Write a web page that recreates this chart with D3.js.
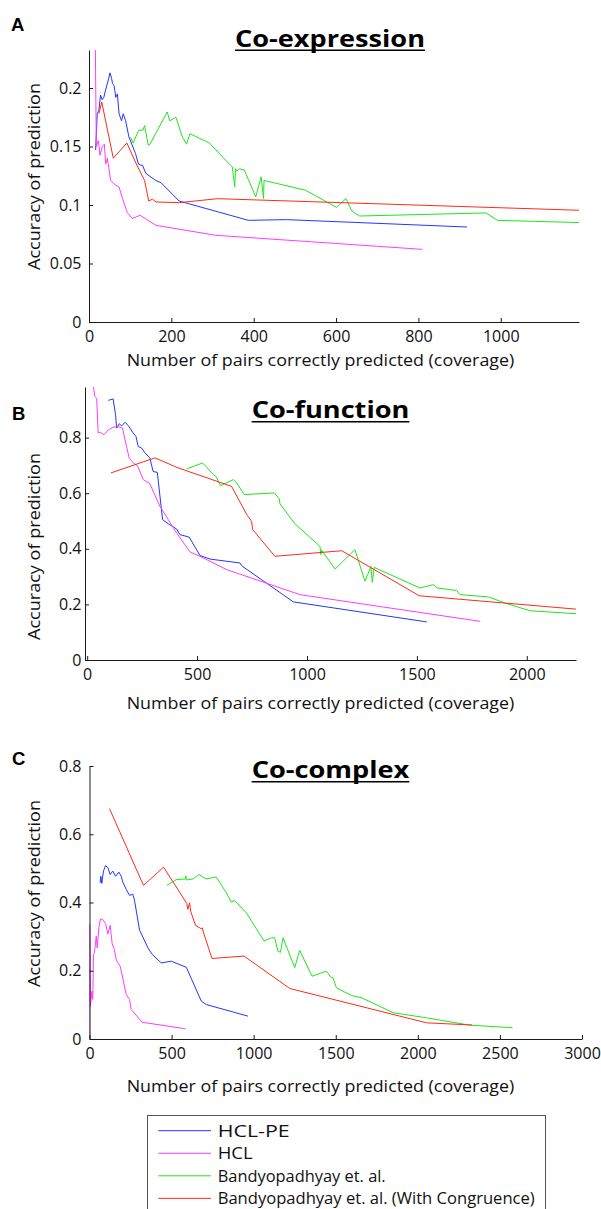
<!DOCTYPE html>
<html>
<head>
<meta charset="utf-8">
<script src="https://cdn.jsdelivr.net/npm/d3@7"></script>
<style>
  html, body { margin: 0; padding: 0; background: #fff; }
  svg { display: block; }
</style>
</head>
<body>
<svg id="fig" width="601" height="1209"></svg>
<script>
// ---- Series ----
const seriesNames = ["HCL-PE", "HCL", "Bandyopadhyay et. al.", "Bandyopadhyay et. al. (With Congruence)"];

// ---- Panel A: Co-expression  [coverage, accuracy] ----
const coexpHclPe = [[16,0.147],[20,0.178],[24,0.181],[28,0.194],[32,0.190],[36,0.192],[40,0.198],[47,0.207],[51,0.213],[55,0.208],[57,0.204],[61,0.202],[65,0.192],[69,0.195],[73,0.178],[79,0.172],[83,0.178],[89,0.172],[97,0.158],[113,0.144],[120,0.135],[126,0.134],[130,0.134],[138,0.127],[162,0.121],[175,0.119],[219,0.1034],[387,0.0869],[480,0.0875],[918,0.0812]];
const coexpHcl = [[13.5,0.30],[17.8,0.150],[22.7,0.155],[26.7,0.1425],[32.4,0.150],[37.3,0.152],[40.5,0.135],[44.5,0.140],[48,0.132],[52.7,0.121],[60.8,0.118],[72.9,0.1154],[82,0.105],[93,0.0935],[105,0.0884],[124,0.0912],[163,0.0826],[308,0.0741],[810,0.0621]];
const coexpBandy = [[101,0.158],[107,0.153],[121,0.164],[131,0.164],[135,0.168],[144,0.151],[148,0.152],[190,0.1795],[196,0.172],[211,0.175],[227,0.158],[237,0.152],[245,0.161],[292,0.153],[348,0.1325],[354,0.1154],[356,0.131],[360,0.129],[365,0.131],[377,0.130],[405,0.107],[418,0.124],[424,0.1055],[425,0.121],[526,0.1126],[601,0.098],[624,0.1055],[638,0.095],[657,0.0906],[964,0.0932],[992,0.0869],[1190,0.085]];
const coexpBandyCong = [[24,0.178],[31,0.188],[59,0.140],[92,0.153],[115,0.135],[135,0.121],[145,0.1034],[154,0.105],[163,0.1026],[219,0.102],[312,0.1054],[1190,0.0955]];

// ---- Panel B: Co-function ----
const cofuncHclPe = [[96,0.934],[118,0.939],[129,0.882],[134,0.834],[146,0.850],[157,0.842],[172,0.855],[187,0.843],[209,0.8165],[222,0.804],[232,0.768],[248,0.762],[263,0.745],[285,0.727],[300,0.678],[319,0.675],[343,0.505],[369,0.490],[407,0.471],[422,0.451],[464,0.442],[513,0.376],[559,0.363],[695,0.349],[706,0.337],[938,0.209],[1545,0.137]];
const cofuncHcl = [[27,0.99],[35,0.948],[43,0.942],[50,0.8165],[61,0.819],[76,0.810],[96,0.828],[118,0.837],[141,0.840],[161,0.834],[172,0.792],[179,0.768],[191,0.727],[209,0.709],[228,0.700],[255,0.649],[285,0.634],[331,0.5525],[369,0.505],[407,0.457],[468,0.3885],[513,0.373],[635,0.325],[968,0.235],[1788,0.139]];
const cofuncBandy = [[452,0.687],[525,0.709],[574,0.667],[586,0.660],[607,0.627],[665,0.649],[680,0.637],[715,0.595],[851,0.601],[874,0.580],[877,0.562],[945,0.490],[1059,0.409],[1063,0.379],[1067,0.395],[1128,0.327],[1218,0.397],[1264,0.283],[1291,0.337],[1297,0.279],[1306,0.333],[1514,0.259],[1575,0.271],[1593,0.259],[1681,0.250],[1696,0.235],[1825,0.227],[1901,0.205],[2015,0.177],[2224,0.1665]];
const cofuncBandyCong = [[108,0.673],[308,0.727],[414,0.691],[657,0.6245],[726,0.523],[748,0.499],[753,0.469],[854,0.373],[1158,0.393],[1511,0.231],[2224,0.183]];

// ---- Panel C: Co-complex ----
const cocompHclPe = [[65,0.458],[69,0.477],[75,0.456],[85,0.492],[98,0.508],[112,0.502],[126,0.482],[142,0.492],[159,0.477],[179,0.489],[193,0.477],[203,0.460],[224,0.438],[244,0.421],[264,0.424],[274,0.407],[305,0.319],[356,0.267],[382,0.248],[437,0.223],[498,0.228],[590,0.210],[681,0.111],[711,0.101],[965,0.067]];
const cocompHcl = [[0,0],[1,0.335],[6,0.096],[14,0.140],[20,0.116],[24,0.248],[30,0.2525],[41,0.301],[47,0.267],[57,0.326],[67,0.352],[81,0.350],[98,0.3385],[112,0.308],[126,0.333],[138,0.280],[152,0.262],[163,0.231],[187,0.213],[224,0.130],[244,0.116],[254,0.0865],[321,0.049],[585,0.030]];
const cocompBandy = [[471,0.450],[529,0.467],[585,0.469],[587,0.478],[590,0.466],[630,0.469],[666,0.482],[711,0.469],[772,0.475],[834,0.428],[864,0.401],[884,0.406],[955,0.370],[1063,0.287],[1108,0.2965],[1128,0.2965],[1148,0.257],[1163,0.254],[1179,0.2965],[1250,0.209],[1280,0.260],[1356,0.184],[1443,0.199],[1468,0.182],[1484,0.179],[1504,0.150],[1596,0.1275],[1657,0.121],[1850,0.077],[2053,0.062],[2317,0.0405],[2577,0.033]];
const cocompBandyCong = [[122,0.675],[329,0.450],[451,0.5035],[593,0.397],[599,0.380],[610,0.399],[616,0.3745],[646,0.333],[681,0.323],[687,0.326],[695,0.311],[746,0.236],[941,0.243],[1220,0.148],[2053,0.0474],[2330,0.041]];

// ---- Ticks ----
const coexpXTicks = [0, 200, 400, 600, 800, 1000];
const coexpXLabels = ["0", "200", "400", "600", "800", "1000"];
const coexpYTicks = [0, 0.05, 0.1, 0.15, 0.2];
const coexpYLabels = ["0", "0.05", "0.1", "0.15", "0.2"];
const cofuncXTicks = [0, 500, 1000, 1500, 2000];
const cofuncXLabels = ["0", "500", "1000", "1500", "2000"];
const cofuncYTicks = [0, 0.2, 0.4, 0.6, 0.8];
const cofuncYLabels = ["0", "0.2", "0.4", "0.6", "0.8"];
const cocompXTicks = [0, 500, 1000, 1500, 2000, 2500, 3000];
const cocompXLabels = ["0", "500", "1000", "1500", "2000", "2500", "3000"];
const cocompYTicks = [0, 0.2, 0.4, 0.6, 0.8];
const cocompYLabels = ["0", "0.2", "0.4", "0.6", "0.8"];

const panelTitles = ["Co-expression", "Co-function", "Co-complex"];
const panelLetters = ["A", "B", "C"];
const xAxisTitle = "Number of pairs correctly predicted (coverage)";
const yAxisTitle = "Accuracy of prediction";

// ---- Styling & layout ----
const lineColors = ["#2236ff", "#ff3cff", "#1ee61e", "#ff2a18"];
const textFont = "'Open Sans', Lato, sans-serif";

const panels = [
  { letter: panelLetters[0], title: panelTitles[0],
    series: [coexpHclPe, coexpHcl, coexpBandy, coexpBandyCong],
    xDomain: [0, 1190], xRange: [89, 579], yDomain: [0, 0.2325], yRange: [322, 50],
    xTicks: coexpXTicks, xLabels: coexpXLabels, yTicks: coexpYTicks, yLabels: coexpYLabels,
    letterPos: [11, 31], titlePos: [330, 46.7, 190], xTitleY: 365.7, yTitleY: 176.5 },
  { letter: panelLetters[1], title: panelTitles[1],
    series: [cofuncHclPe, cofuncHcl, cofuncBandy, cofuncBandyCong],
    xDomain: [-10, 2224], xRange: [85, 576], yDomain: [0, 0.982], yRange: [660, 387],
    xTicks: cofuncXTicks, xLabels: cofuncXLabels, yTicks: cofuncYTicks, yLabels: cofuncYLabels,
    letterPos: [12, 420], titlePos: [330.5, 418.3, 157.7], xTitleY: 709.3, yTitleY: 546.5 },
  { letter: panelLetters[2], title: panelTitles[2],
    series: [cocompHclPe, cocompHcl, cocompBandy, cocompBandyCong],
    xDomain: [0, 3000], xRange: [89.5, 582], yDomain: [0, 0.8], yRange: [1039, 766],
    xTicks: cocompXTicks, xLabels: cocompXLabels, yTicks: cocompYTicks, yLabels: cocompYLabels,
    letterPos: [12, 765], titlePos: [330.5, 778.3, 157.7], xTitleY: 1092, yTitleY: 893.5 }
];

const svg = d3.select("#fig");

function fit(sel, width) {
  sel.attr("textLength", width).attr("lengthAdjust", "spacingAndGlyphs");
  return sel;
}

panels.forEach((p, pi) => {
  const x = d3.scaleLinear().domain(p.xDomain).range(p.xRange);
  const y = d3.scaleLinear().domain(p.yDomain).range(p.yRange);
  const g = svg.append("g").attr("class", "panel");

  // clip region for the curves
  const clipId = "clip" + pi;
  svg.append("clipPath").attr("id", clipId)
    .append("rect")
    .attr("x", p.xRange[0]).attr("y", p.yRange[1])
    .attr("width", p.xRange[1] - p.xRange[0] + 2)
    .attr("height", p.yRange[0] - p.yRange[1]);

  // curves
  const line = d3.line().x(d => x(d[0])).y(d => y(d[1]));
  const curves = g.append("g").attr("clip-path", `url(#${clipId})`);
  p.series.forEach((s, si) => {
    curves.append("path")
      .datum(s)
      .attr("d", line)
      .attr("fill", "none")
      .attr("stroke", lineColors[si])
      .attr("stroke-width", 1)
      .attr("stroke-linejoin", "round");
  });

  // axes (ticks pointing inward)
  const xAxis = d3.axisBottom(x)
    .tickValues(p.xTicks)
    .tickFormat((d, i) => p.xLabels[i])
    .tickSizeInner(-4).tickSizeOuter(0).tickPadding(9);
  const yAxis = d3.axisLeft(y)
    .tickValues(p.yTicks)
    .tickFormat((d, i) => p.yLabels[i])
    .tickSizeInner(-4).tickSizeOuter(0).tickPadding(p.xRange[0] - 81.5);

  const gx = g.append("g").attr("transform", `translate(0,${p.yRange[0]})`).call(xAxis);
  const gy = g.append("g").attr("transform", `translate(${p.xRange[0]},0)`).call(yAxis);
  [gx, gy].forEach(a => {
    a.select(".domain").attr("stroke", "#1a1a1a");
    a.selectAll(".tick line").attr("stroke", "#1a1a1a");
    a.selectAll(".tick text")
      .attr("fill", "#111")
      .style("font-family", textFont)
      .style("font-size", "16px");
  });

  // axis titles
  fit(g.append("text")
    .attr("x", 320.5).attr("y", p.xTitleY)
    .attr("text-anchor", "middle")
    .style("font-family", textFont).style("font-size", "17px")
    .attr("fill", "#111")
    .text(xAxisTitle), 387.6);

  fit(g.append("text")
    .attr("transform", `translate(40,${p.yTitleY}) rotate(-90)`)
    .attr("text-anchor", "middle")
    .style("font-family", textFont).style("font-size", "17px")
    .attr("fill", "#111")
    .text(yAxisTitle), 187);

  // panel title, underlined
  const [tx, ty, tw] = p.titlePos;
  fit(g.append("text")
    .attr("x", tx).attr("y", ty)
    .attr("text-anchor", "middle")
    .style("font-family", "'Open Sans', Lato, sans-serif")
    .style("font-weight", "bold").style("font-size", "24px")
    .attr("fill", "#000")
    .text(p.title), tw);
  g.append("line")
    .attr("x1", tx - tw / 2).attr("x2", tx + tw / 2)
    .attr("y1", ty + 3.5).attr("y2", ty + 3.5)
    .attr("stroke", "#000").attr("stroke-width", 1.6);

  // panel letter
  g.append("text")
    .attr("x", p.letterPos[0]).attr("y", p.letterPos[1])
    .style("font-family", "'Liberation Sans', Arial, sans-serif")
    .style("font-weight", "bold").style("font-size", "18.5px")
    .attr("fill", "#000")
    .text(p.letter);
});

// ---- Legend ----
const legend = svg.append("g").attr("class", "legend");
legend.append("rect")
  .attr("x", 147.5).attr("y", 1115.5)
  .attr("width", 398).attr("height", 120)
  .attr("fill", "#fff").attr("stroke", "#555").attr("stroke-width", 1);

const legendWidths = [72, 35, 168, 317];
seriesNames.forEach((name, i) => {
  const ly = 1130.7 + i * 22.55;
  legend.append("line")
    .attr("x1", 158.3).attr("x2", 211)
    .attr("y1", ly).attr("y2", ly)
    .attr("stroke", lineColors[i]).attr("stroke-width", 1);
  fit(legend.append("text")
    .attr("x", 217.7).attr("y", ly + 6)
    .style("font-family", textFont).style("font-size", "16px")
    .attr("fill", "#111")
    .text(name), legendWidths[i]);
});
</script>
</body>
</html>
